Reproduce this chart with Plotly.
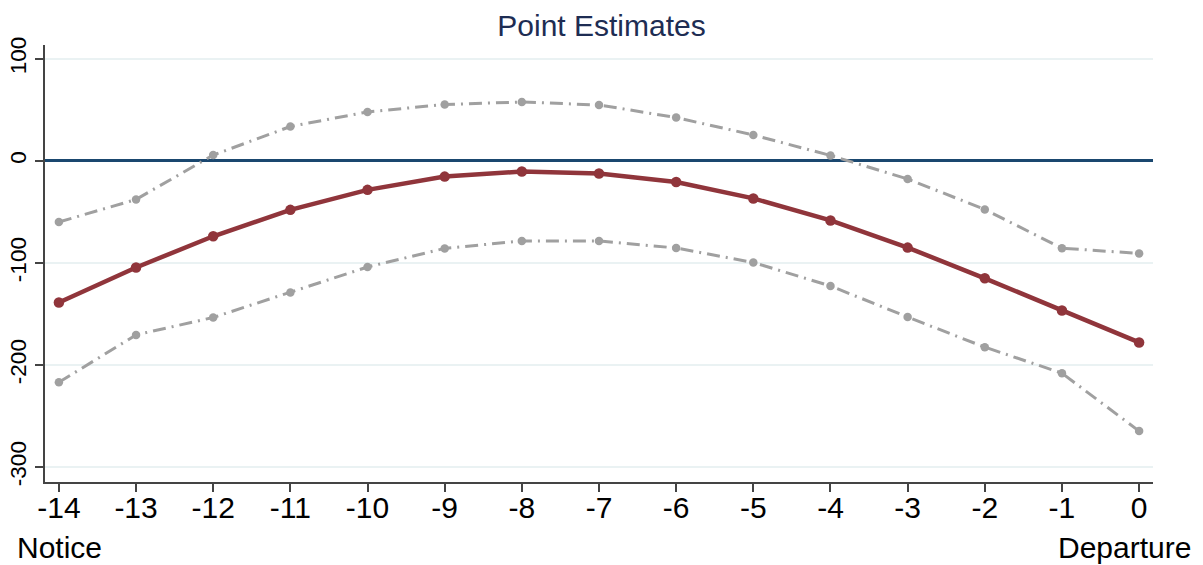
import plotly.graph_objects as go

days = [-14, -13, -12, -11, -10, -9, -8, -7, -6, -5, -4, -3, -2, -1, 0]
point_est = [-138.7, -104.4, -73.8, -47.9, -28.3, -15.3, -10.3, -12.2, -20.6, -36.7, -58.3, -84.9, -115.0, -146.6, -177.9]
upper_ci = [-59.8, -37.7, 5.8, 33.8, 48.1, 55.4, 57.8, 54.9, 42.6, 25.5, 5.4, -17.6, -47.5, -85.5, -90.6]
lower_ci = [-217.0, -170.5, -153.4, -128.9, -103.9, -85.7, -78.4, -78.4, -85.3, -99.5, -122.5, -153.0, -182.5, -208.0, -264.8]
x_tick_labels = [str(d) for d in days]
y_ticks = [100, 0, -100, -200, -300]

GRAY = "#A0A0A0"
RED = "#90353B"
NAVY = "#1A476F"

fig = go.Figure()
dash = "13px,6px,2px,6px"
fig.add_trace(go.Scatter(x=days, y=upper_ci, mode="lines+markers",
                         line=dict(color=GRAY, width=3, dash=dash),
                         marker=dict(color=GRAY, size=8.5), showlegend=False))
fig.add_trace(go.Scatter(x=days, y=lower_ci, mode="lines+markers",
                         line=dict(color=GRAY, width=3, dash=dash),
                         marker=dict(color=GRAY, size=8.5), showlegend=False))
fig.add_trace(go.Scatter(x=days, y=point_est, mode="lines+markers",
                         line=dict(color=RED, width=4.5),
                         marker=dict(color=RED, size=10.5), showlegend=False))

fig.update_layout(
    width=1203, height=565,
    margin=dict(l=45, r=50, t=45, b=83),
    plot_bgcolor="white", paper_bgcolor="white",
    font=dict(family="Liberation Sans, Arial, sans-serif", color="black"),
    title=dict(text="Point Estimates", x=0.5, xanchor="center", y=0.955, yanchor="middle",
               font=dict(size=30, color="#1E2D53")),
    xaxis=dict(range=[-14.18, 0.18], tickmode="array", tickvals=days, ticktext=x_tick_labels,
               showgrid=False, zeroline=False, showline=True, linecolor="#444", linewidth=1.5,
               ticks="outside", ticklen=8, tickcolor="#444", tickwidth=1.5,
               tickfont=dict(size=30, color="black"), automargin=False, ticklabelstandoff=-10),
    yaxis=dict(range=[-314.7, 113.7], tickmode="array", tickvals=y_ticks,
               ticktext=[str(v) for v in y_ticks], tickangle=-90,
               showgrid=True, gridcolor="#EAF2F3", gridwidth=1.5,
               zeroline=True, zerolinecolor=NAVY, zerolinewidth=2.5,
               showline=True, linecolor="#444", linewidth=1.5,
               ticks="outside", ticklen=8, tickcolor="#444", tickwidth=1.5,
               tickfont=dict(size=22.5, color="black"), automargin=False),
    annotations=[
        dict(text="Notice", xref="paper", yref="paper", x=-0.027, y=-0.149,
             xanchor="left", yanchor="middle", showarrow=False, font=dict(size=30, color="black")),
        dict(text="Departure", xref="paper", yref="paper", x=1.036, y=-0.149,
             xanchor="right", yanchor="middle", showarrow=False, font=dict(size=30, color="black")),
    ],
)

fig.write_html("out.html")
